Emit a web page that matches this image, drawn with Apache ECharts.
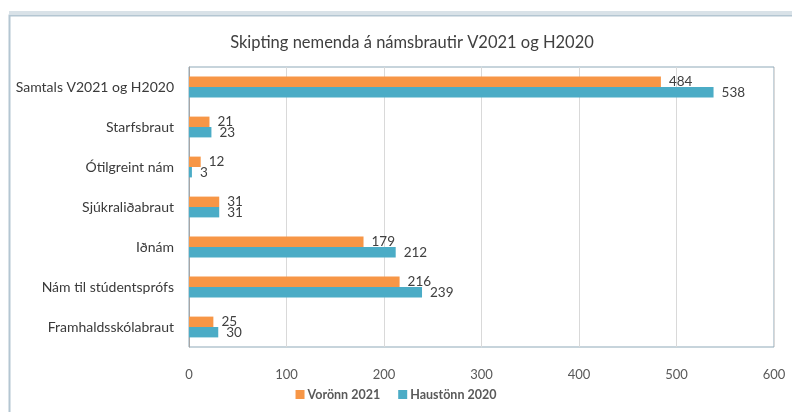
<!DOCTYPE html>
<html><head><meta charset="utf-8">
<script src="https://cdn.jsdelivr.net/npm/echarts@6/dist/echarts.min.js"></script>
<style>html,body{margin:0;padding:0;background:#fff}#c{width:792px;height:412px}</style>
</head><body><div id="c"></div>
<script>
const categories = ['Samtals V2021 og H2020','Starfsbraut','Ótilgreint nám','Sjúkraliðabraut','Iðnám','Nám til stúdentsprófs','Framhaldsskólabraut'];
const vor2021 = [484, 21, 12, 31, 179, 216, 25];
const haust2020 = [538, 23, 3, 31, 212, 239, 30];
const seriesNames = ['Vorönn 2021','Haustönn 2020'];
const xTicks = [0, 100, 200, 300, 400, 500, 600];

const FONT = 'Lato, "Open Sans", sans-serif';
const chart = echarts.init(document.getElementById('c'), null, {renderer:'canvas'});
const lbl = {show:true, position:'right', distance:8, color:'#404040', fontSize:13.5, fontFamily:FONT};
chart.setOption({
  animation:false,
  graphic:[
    {type:'rect', shape:{x:9.5, y:15.5, width:800, height:420}, style:{fill:'none', stroke:'#b4c6d2', lineWidth:2}, z:-1},
    {type:'rect', shape:{x:9, y:11, width:800, height:4}, style:{fill:'#d9e2e8'}, z:-1}
  ],
  title:{text:'Skipting nemenda á námsbrautir V2021 og H2020', left:407, top:29, textAlign:'center',
    textStyle:{fontFamily:FONT, fontSize:16.5, fontWeight:'normal', color:'#404040'}},
  grid:{left:189, right:18, top:67, bottom:65, show:true, borderColor:'#8fa9b8', borderWidth:1},
  legend:{bottom:6, left:'center', itemWidth:9, itemHeight:9, itemGap:18, icon:'rect',
    textStyle:{fontFamily:FONT, fontSize:12.5, fontWeight:'bold', color:'#595959', padding:[0,0,0,-2]}},
  xAxis:{type:'value', min:xTicks[0], max:xTicks[xTicks.length-1], interval:100,
    axisLine:{show:false}, axisTick:{show:false},
    splitLine:{lineStyle:{color:'#d9d9d9'}},
    axisLabel:{color:'#595959', fontSize:13, fontFamily:FONT, margin:21}},
  yAxis:{type:'category', data:categories, inverse:true,
    axisLine:{show:true, lineStyle:{color:'#a6a6a6'}}, axisTick:{show:false},
    axisLabel:{color:'#3a3a3a', fontSize:14, fontFamily:FONT, margin:15}},
  series:[
    {name:seriesNames[0], type:'bar', data:vor2021, itemStyle:{color:'#F79646'}, barGap:'0%', barCategoryGap:'48%', label:lbl},
    {name:seriesNames[1], type:'bar', data:haust2020, itemStyle:{color:'#4BACC6'}, barGap:'0%', barCategoryGap:'48%', label:lbl}
  ]
});
</script></body></html>
